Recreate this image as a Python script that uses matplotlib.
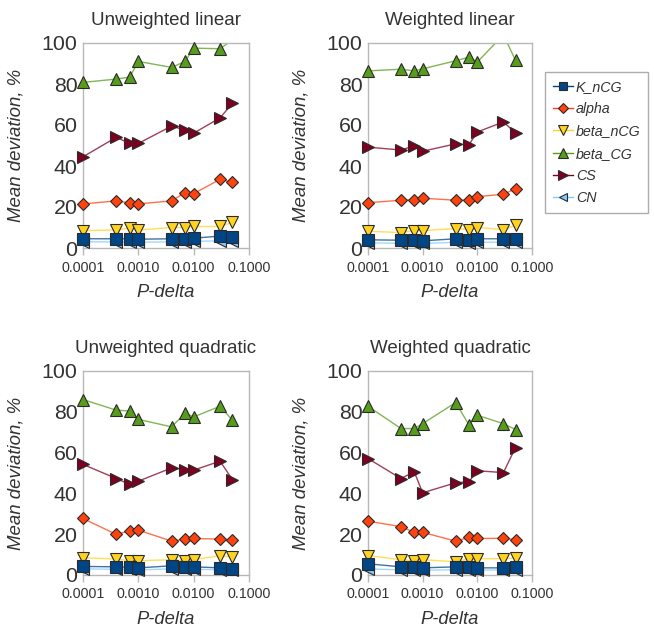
import matplotlib
matplotlib.use("Agg")
import matplotlib.pyplot as plt
from matplotlib.lines import Line2D
import numpy as np

plt.rcParams['font.family'] = ['Liberation Sans', 'DejaVu Sans']

p_delta = [0.0001, 0.0004, 0.0007, 0.001, 0.004, 0.007, 0.01, 0.03, 0.05]
series_names = ["K_nCG", "alpha", "beta_nCG", "beta_CG", "CS", "CN"]
panel_titles = ["Unweighted linear", "Weighted linear",
                "Unweighted quadratic", "Weighted quadratic"]
x_ticks = [0.0001, 0.001, 0.01, 0.1]
x_tick_labels = ["0.0001", "0.0010", "0.0100", "0.1000"]
y_ticks = [0, 20, 40, 60, 80, 100]

# Unweighted linear
ul_K_nCG = [4.5, 4.5, 4.5, 4.3, 4.5, 4.3, 4.8, 5.8, 5.3]
ul_alpha = [21.5, 23.0, 22.0, 21.5, 23.0, 27.0, 26.5, 33.5, 32.0]
ul_beta_nCG = [8.5, 8.8, 9.8, 8.8, 10.0, 10.0, 10.5, 10.5, 12.5]
ul_beta_CG = [80.8, 82.4, 83.4, 91.0, 88.1, 91.0, 97.5, 97.2, 101.5]
ul_CS = [44.5, 54.0, 51.0, 51.0, 59.5, 57.5, 56.0, 63.5, 70.5]
ul_CN = [3.0, 3.0, 3.0, 2.8, 3.0, 2.8, 3.2, 3.5, 3.5]

# Weighted linear
wl_K_nCG = [4.0, 3.8, 4.0, 3.5, 4.5, 4.0, 4.5, 4.5, 4.3]
wl_alpha = [22.1, 23.3, 23.6, 24.3, 23.3, 23.4, 25.1, 26.2, 28.9]
wl_beta_nCG = [8.2, 7.5, 8.5, 8.5, 9.5, 9.0, 10.0, 9.0, 11.0]
wl_beta_CG = [86.4, 87.2, 86.4, 87.4, 91.3, 93.1, 90.7, 104.0, 91.5]
wl_CS = [49.2, 47.8, 49.8, 47.2, 50.8, 50.3, 56.6, 61.5, 56.1]
wl_CN = [2.5, 2.3, 2.5, 2.2, 2.8, 2.5, 2.8, 2.8, 2.7]

# Unweighted quadratic
uq_K_nCG = [4.2, 4.0, 3.8, 3.5, 4.5, 3.7, 4.0, 3.5, 3.0]
uq_alpha = [27.7, 19.9, 21.7, 22.0, 16.6, 17.6, 17.9, 17.6, 17.1]
uq_beta_nCG = [8.5, 7.8, 7.0, 7.0, 7.5, 7.0, 7.5, 9.5, 8.8]
uq_beta_CG = [86.0, 80.8, 80.4, 76.3, 72.6, 79.4, 77.5, 82.7, 75.9]
uq_CS = [54.2, 47.3, 44.4, 46.0, 52.5, 51.7, 51.4, 55.8, 46.8]
uq_CN = [3.0, 2.8, 2.7, 2.5, 3.0, 2.7, 2.8, 2.6, 2.4]

# Weighted quadratic
wq_K_nCG = [5.5, 4.0, 4.0, 3.5, 4.0, 3.8, 3.5, 3.5, 4.0]
wq_alpha = [26.4, 23.7, 20.9, 20.9, 16.6, 18.4, 17.9, 18.0, 17.3]
wq_beta_nCG = [9.5, 7.5, 7.0, 7.5, 6.5, 8.0, 8.0, 8.0, 8.5]
wq_beta_CG = [82.7, 71.8, 71.8, 74.2, 84.5, 73.7, 78.3, 74.2, 71.3]
wq_CS = [57.1, 47.3, 50.6, 40.3, 45.2, 45.7, 51.1, 50.2, 62.5]
wq_CN = [3.0, 2.5, 2.5, 2.3, 2.6, 2.5, 2.4, 2.5, 2.6]

panels = [
    [ul_K_nCG, ul_alpha, ul_beta_nCG, ul_beta_CG, ul_CS, ul_CN],
    [wl_K_nCG, wl_alpha, wl_beta_nCG, wl_beta_CG, wl_CS, wl_CN],
    [uq_K_nCG, uq_alpha, uq_beta_nCG, uq_beta_CG, uq_CS, uq_CN],
    [wq_K_nCG, wq_alpha, wq_beta_nCG, wq_beta_CG, wq_CS, wq_CN],
]

colors = ["#004586", "#ff420e", "#ffd320", "#579d1c", "#7e0021", "#83caff"]
markers = ["s", "D", "v", "^", ">", "<"]
msizes = [8.5, 6.5, 9, 9, 9, 8]
edge = "#2a2a2a"
text_c = "#333333"
spine_c = "#b8b8b8"

W, H = 654, 635
fig = plt.figure(figsize=(W / 100, H / 100), dpi=100)

boxes = [(83, 43, 249, 248), (368, 43, 532, 248),
         (83, 371, 249, 575), (368, 371, 532, 575)]

for i, (l, t, r, b) in enumerate(boxes):
    ax = fig.add_axes([l / W, 1 - b / H, (r - l) / W, (b - t) / H])
    data = panels[i]
    for j in reversed(range(len(series_names))):
        y = np.array(data[j], dtype=float)
        ax.plot(p_delta, y, color=colors[j], lw=1.0, alpha=0.75,
                zorder=2 + (6 - j) * 0.1)
        ym = np.where(y <= 100, y, np.nan)
        ax.plot(p_delta, ym, ls="none", marker=markers[j],
                ms=msizes[j], mfc=colors[j], mec=edge, mew=0.8,
                zorder=3 + (6 - j) * 0.1, clip_on=False)
    ax.set_xscale("log")
    ax.set_xlim(0.0001, 0.1)
    ax.set_ylim(0, 100)
    ax.set_xticks(x_ticks)
    ax.set_xticklabels(x_tick_labels)
    ax.minorticks_off()
    ax.set_yticks(y_ticks)
    ax.tick_params(axis="x", labelsize=10.3, colors=spine_c, labelcolor=text_c,
                   length=5, width=1, direction="out", pad=4)
    ax.tick_params(axis="y", labelsize=15.4, colors=spine_c, labelcolor=text_c,
                   length=0, pad=4)
    for s in ax.spines.values():
        s.set_color(spine_c)
        s.set_linewidth(1.0)
    ax.set_title(panel_titles[i], fontsize=13.5, color=text_c, pad=13)
    ax.set_xlabel("P-delta", fontsize=13.2, style="italic", color=text_c,
                  labelpad=7)
    ax.set_ylabel("Mean deviation, %", fontsize=13.4, style="italic",
                  color=text_c)
    ax.yaxis.set_label_coords(-58 / (r - l), 0.5)

handles = [Line2D([0], [0], color=colors[j], lw=1.0, marker=markers[j],
                  ms=msizes[j] * 0.75, mfc=colors[j], mec=edge, mew=0.8)
           for j in range(len(series_names))]
leg = fig.legend(handles, series_names, loc="upper left",
                 bbox_to_anchor=(545 / W, 1 - 72 / H),
                 prop={"size": 10.3, "style": "italic"},
                 frameon=True, fancybox=False, handlelength=1.4,
                 handletextpad=0.2, labelspacing=0.58, borderpad=0.55,
                 borderaxespad=0)
leg.get_frame().set_edgecolor("#999999")
leg.get_frame().set_linewidth(1.0)
for t in leg.get_texts():
    t.set_color(text_c)

fig.savefig("out.png", dpi=100)
